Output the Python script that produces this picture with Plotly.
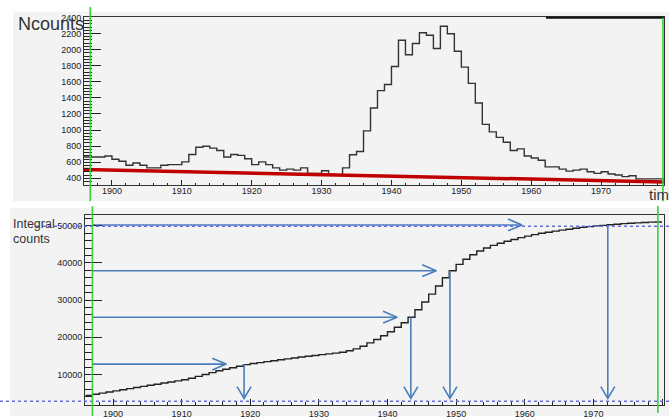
import plotly.graph_objects as go

W, H = 669, 419

# ---------------- data ----------------
# top histogram: one bin per year, left edges 1896 .. 1978
hist_years = list(range(1896, 1979))
hist_counts = [
    665, 665, 665, 677, 637, 612, 563, 591, 563, 530,   # 1896-1905
    530, 563, 571, 571, 604, 697, 787, 799, 775, 746,   # 1906-1915
    665, 697, 685, 644, 571, 604, 571, 530, 502, 515,   # 1916-1925
    502, 530, 461, 461, 494, 449, 445, 530, 693, 734,   # 1926-1935
    990, 1275, 1490, 1567, 1791, 2117, 1937, 2076, 2210, 2178,  # 1936-1945
    2015, 2291, 2198, 1979, 1783, 1580, 1336, 1071, 978, 909,   # 1946-1955
    848, 746, 766, 677, 653, 624, 543, 543, 515, 490,   # 1956-1965
    502, 515, 482, 461, 482, 453, 441, 421, 433, 393,   # 1966-1975
    393, 393, 393,                                      # 1976-1978
]
fit_years = [1896, 1979]
fit_values = [510, 355]

# bottom: integral counts, one bin per year, left edges 1896 .. 1979
integral_years = list(range(1896, 1980))
integral_counts = [
    4400, 4700, 5000, 5300, 5600, 5900, 6200, 6500, 6800, 7100,          # 1896-1905
    7400, 7700, 8000, 8300, 8600, 9000, 9500, 10000, 10500, 11000,       # 1906-1915
    11400, 11800, 12200, 12650, 12950, 13200, 13450, 13700, 13950, 14200,  # 1916-1925
    14450, 14700, 14900, 15100, 15350, 15550, 15750, 16000, 16400, 16900,  # 1926-1935
    17600, 18500, 19400, 20400, 21500, 22700, 23900, 25400, 27400, 29500,  # 1936-1945
    31600, 33800, 36000, 37900, 39600, 41000, 42200, 43200, 44000, 44700,  # 1946-1955
    45300, 45800, 46300, 46800, 47200, 47600, 47950, 48250, 48550, 48800,  # 1956-1965
    49050, 49300, 49550, 49750, 49950, 50100, 50250, 50400, 50550, 50650,  # 1966-1975
    50750, 50850, 50950, 51000,                                          # 1976-1979
]

arrow_levels = [12800, 25400, 37900, 50200]
arrow_head_years = [1916.5, 1941.4, 1947.1, 1959.6]
arrow_cross_years = [1919.1, 1943.4, 1949.1, 1972.1]
arrow_start_year = 1897.0
arrow_floor_value = 3600

dashed_levels = [49870, 2780]
green_top_years = [1896.9, 1978.85]
green_bottom_years = [1897.0, 1979.4]

x_tick_vals = [1900, 1910, 1920, 1930, 1940, 1950, 1960, 1970, 1980]
x_tick_text = ["1900", "1910", "1920", "1930", "1940", "1950", "1960", "1970", "1980"]

# ---------------- geometry / style ----------------
TOP_X = (84, 664); TOP_Y = (12.7, 184)
BOT_X = (85, 664); BOT_Y = (214, 408)
top_xrange = [1896, 1979]
top_yrange = [311, 2400]
bot_xrange = [1895.92, 1980.29]
bot_yrange = [1747, 52900]

def px_x(v):
    return v / W

def px_y(v):
    return 1 - v / H

BLUE = "#4a7ebb"
GREEN = "#3ad13a"
TICKFONT = dict(family="Liberation Sans, Arial, sans-serif", size=9, color="#222")
LABELFONT = "Liberation Sans, Arial, sans-serif"

fig = go.Figure()

# top histogram (step)
fig.add_trace(go.Scatter(
    x=hist_years + [hist_years[-1] + 1],
    y=hist_counts + [hist_counts[-1]],
    mode="lines", line=dict(color="#333", width=1.4, shape="hv"),
    xaxis="x", yaxis="y", hoverinfo="skip", showlegend=False))
# fit line
fig.add_trace(go.Scatter(
    x=fit_years, y=fit_values, mode="lines",
    line=dict(color="#c00000", width=3.5),
    xaxis="x", yaxis="y", hoverinfo="skip", showlegend=False))

# bottom integral (step)
fig.add_trace(go.Scatter(
    x=integral_years + [integral_years[-1] + 1],
    y=integral_counts + [integral_counts[-1]],
    mode="lines", line=dict(color="#222", width=1.4, shape="hv"),
    xaxis="x2", yaxis="y2", hoverinfo="skip", showlegend=False))

# arrows (built from the arrow arrays)
bx_per_px = (bot_xrange[1] - bot_xrange[0]) / (BOT_X[1] - BOT_X[0])
by_per_px = (bot_yrange[1] - bot_yrange[0]) / (BOT_Y[1] - BOT_Y[0])
HEAD_L, HEAD_W = 14, 6
VHEAD_L, VHEAD_W = 12, 7
ax, ay = [], []
for lvl, hx, cx in zip(arrow_levels, arrow_head_years, arrow_cross_years):
    # horizontal arrow
    ax += [arrow_start_year, hx, None]
    ay += [lvl, lvl, None]
    ax += [hx - HEAD_L * bx_per_px, hx, hx - HEAD_L * bx_per_px, None]
    ay += [lvl + HEAD_W * by_per_px, lvl, lvl - HEAD_W * by_per_px, None]
    # vertical arrow
    ax += [cx, cx, None]
    ay += [lvl, arrow_floor_value, None]
    ax += [cx - VHEAD_W * bx_per_px, cx, cx + VHEAD_W * bx_per_px, None]
    ay += [arrow_floor_value + VHEAD_L * by_per_px, arrow_floor_value,
           arrow_floor_value + VHEAD_L * by_per_px, None]
fig.add_trace(go.Scatter(
    x=ax, y=ay, mode="lines", line=dict(color=BLUE, width=1.6),
    xaxis="x2", yaxis="y2", hoverinfo="skip", showlegend=False, cliponaxis=False))

shapes = []
# panel backgrounds
shapes.append(dict(type="rect", xref="paper", yref="paper", x0=px_x(13), x1=1,
                   y0=px_y(200), y1=px_y(7), fillcolor="#f3f3f3", line=dict(width=0), layer="below"))
shapes.append(dict(type="rect", xref="paper", yref="paper", x0=px_x(10), x1=1,
                   y0=0, y1=px_y(207), fillcolor="#f3f3f3", line=dict(width=0), layer="below"))
# dashed guide lines (extend beyond the frame)
shapes.append(dict(type="line", xref="paper", yref="y2", x0=px_x(36), x1=1,
                   y0=dashed_levels[0], y1=dashed_levels[0],
                   line=dict(color="#6a6ae0", width=1.5, dash="3px,3px")))
shapes.append(dict(type="line", xref="paper", yref="y2", x0=0, x1=1,
                   y0=dashed_levels[1], y1=dashed_levels[1],
                   line=dict(color="#6a6ae0", width=1.5, dash="3px,3px")))
# black segment on top frame
shapes.append(dict(type="line", xref="paper", yref="paper", x0=px_x(546), x1=px_x(664),
                   y0=px_y(13), y1=px_y(13), line=dict(color="#111", width=2)))
# green range markers
shapes.append(dict(type="line", xref="x", yref="paper", x0=green_top_years[0], x1=green_top_years[0],
                   y0=px_y(200), y1=px_y(2), line=dict(color=GREEN, width=1.6)))
shapes.append(dict(type="line", xref="x", yref="paper", x0=green_top_years[1], x1=green_top_years[1],
                   y0=px_y(200), y1=px_y(13), line=dict(color=GREEN, width=1.6)))
shapes.append(dict(type="line", xref="x2", yref="paper", x0=green_bottom_years[0], x1=green_bottom_years[0],
                   y0=0, y1=px_y(205), line=dict(color=GREEN, width=1.6)))
shapes.append(dict(type="line", xref="x2", yref="paper", x0=green_bottom_years[1], x1=green_bottom_years[1],
                   y0=px_y(416), y1=px_y(205), line=dict(color=GREEN, width=1.6)))

annotations = [
    dict(text="Ncounts", x=px_x(16), y=px_y(19), xref="paper", yref="paper",
         xanchor="left", yanchor="middle", showarrow=False,
         font=dict(family=LABELFONT, size=18, color="#333")),
    dict(text="time", x=px_x(647), y=px_y(193), xref="paper", yref="paper",
         xanchor="left", yanchor="middle", showarrow=False,
         font=dict(family=LABELFONT, size=15, color="#333")),
    dict(text="Integral", x=px_x(11), y=px_y(223), xref="paper", yref="paper",
         xanchor="left", yanchor="middle", showarrow=False,
         font=dict(family=LABELFONT, size=12.5, color="#333")),
    dict(text="counts", x=px_x(11), y=px_y(239), xref="paper", yref="paper",
         xanchor="left", yanchor="middle", showarrow=False,
         font=dict(family=LABELFONT, size=12.5, color="#333")),
]

axis_common = dict(showgrid=False, zeroline=False, showline=True, linecolor="#333",
                   linewidth=1, mirror=True, ticks="inside", tickcolor="#222",
                   tickfont=TICKFONT, fixedrange=True)

fig.update_layout(
    width=W, height=H, margin=dict(l=0, r=0, t=0, b=0),
    paper_bgcolor="white", plot_bgcolor="#f3f3f3", showlegend=False,
    xaxis=dict(axis_common, domain=[px_x(TOP_X[0]), px_x(TOP_X[1])], range=top_xrange,
               anchor="y", tickvals=x_tick_vals, ticktext=x_tick_text, ticklen=5,
               ticklabelstandoff=-3,
               minor=dict(dtick=2, tick0=1900, ticklen=2.5, ticks="inside", tickcolor="#222")),
    yaxis=dict(axis_common, domain=[px_y(TOP_Y[1]), px_y(TOP_Y[0])], range=top_yrange,
               anchor="x", dtick=200, tick0=0, ticklen=17, tickformat="d",
               minor=dict(dtick=40, tick0=0, ticklen=8, ticks="inside", tickcolor="#222")),
    xaxis2=dict(axis_common, domain=[px_x(BOT_X[0]), px_x(BOT_X[1])], range=bot_xrange,
                anchor="y2", tickvals=x_tick_vals, ticktext=x_tick_text, ticklen=6,
                minor=dict(dtick=2, tick0=1900, ticklen=3, ticks="inside", tickcolor="#222")),
    yaxis2=dict(axis_common, domain=[px_y(BOT_Y[1]), px_y(BOT_Y[0])], range=bot_yrange,
                anchor="x2", dtick=10000, tick0=0, ticklen=17, tickformat="d",
                minor=dict(dtick=2000, tick0=0, ticklen=8, ticks="inside", tickcolor="#222")),
    shapes=shapes, annotations=annotations,
)

fig.write_html("out.html", config={"displayModeBar": False},
               post_script="document.body.style.margin='0';")
